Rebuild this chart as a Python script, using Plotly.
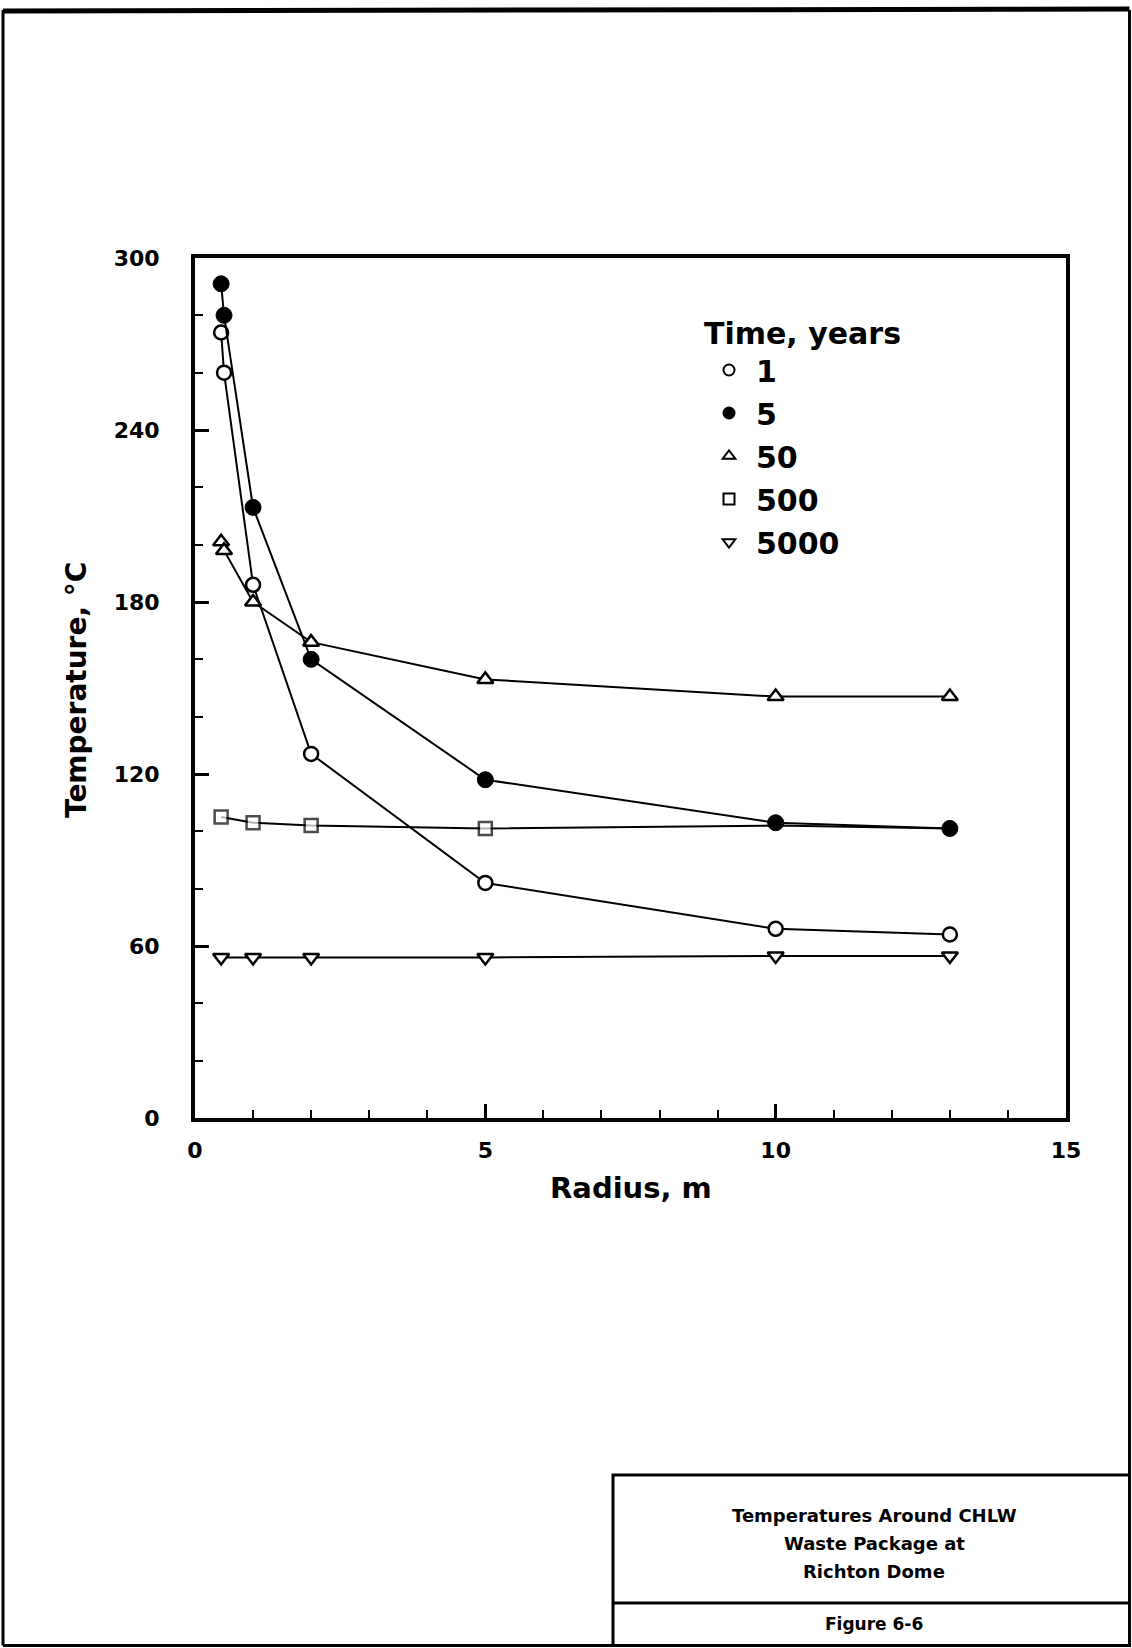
import plotly.graph_objects as go

# Radial positions (m) and temperatures (deg C) for each elapsed time
radius = [0.45, 0.5, 1, 2, 5, 10, 13]
radius_short = [0.45, 1, 2, 5, 10, 13]

temp_1yr = [274, 260, 186, 127, 82, 66, 64]
temp_5yr = [291, 280, 213, 160, 118, 103, 101]
temp_50yr = [201, 198, 180, 166, 153, 147, 147]
temp_500yr = [105, 103, 102, 101, 102, 101]
temp_5000yr = [56, 56, 56, 56, 56.5, 56.5]

series_names = ["1", "5", "50", "500", "5000"]

x_ticks = [0, 5, 10, 15]
y_ticks = [0, 60, 120, 180, 240, 300]

W, H = 1132, 1648
FONT = "DejaVu Sans"
BLACK = "#000000"


def px_x(p):
    return p / W


def px_y(p):
    return 1 - p / H


fig = go.Figure()

line_style = dict(color=BLACK, width=2)

# 500-year curve: its last two markers sit underneath the 5-year dots
fig.add_trace(go.Scatter(
    x=radius_short, y=temp_500yr, mode="lines+markers", showlegend=False,
    line=line_style,
    marker=dict(symbol="square", size=[13, 13, 13, 13, 0, 0], color="white",
                line=dict(color=BLACK, width=2.5)),
))
fig.add_trace(go.Scatter(
    x=radius_short, y=temp_5000yr, mode="lines+markers", showlegend=False,
    line=line_style,
    marker=dict(symbol="triangle-down", size=14, color="white",
                line=dict(color=BLACK, width=2.5)),
))
fig.add_trace(go.Scatter(
    x=radius, y=temp_50yr, mode="lines+markers", showlegend=False,
    line=line_style,
    marker=dict(symbol="triangle-up", size=14, color="white",
                line=dict(color=BLACK, width=2.5)),
))
fig.add_trace(go.Scatter(
    x=radius, y=temp_1yr, mode="lines+markers", showlegend=False,
    line=line_style,
    marker=dict(symbol="circle", size=14, color="white",
                line=dict(color=BLACK, width=2.5)),
))
fig.add_trace(go.Scatter(
    x=radius, y=temp_5yr, mode="lines+markers", showlegend=False,
    line=line_style,
    marker=dict(symbol="circle", size=16, color=BLACK,
                line=dict(color=BLACK, width=1)),
))

# Legend entries show the symbol only
legend_symbols = [
    ("circle", "white"),
    ("circle", BLACK),
    ("triangle-up", "white"),
    ("square", "white"),
    ("triangle-down", "white"),
]
for name, (sym, fill) in zip(series_names, legend_symbols):
    fig.add_trace(go.Scatter(
        x=[None], y=[None], mode="markers", name=name, legendgroup=name,
        marker=dict(symbol=sym, size=11, color=fill,
                    line=dict(color=BLACK, width=2)),
    ))

axis_common = dict(
    showline=True, linecolor=BLACK, linewidth=4, mirror=True,
    ticks="inside", ticklen=14, tickwidth=2.5, tickcolor=BLACK,
    showgrid=False, zeroline=False, automargin=False,
    tickfont=dict(family=FONT, size=22, color=BLACK, weight="bold"),
)

fig.update_layout(
    width=W, height=H,
    margin=dict(l=0, r=0, t=0, b=0, autoexpand=False),
    paper_bgcolor="white", plot_bgcolor="white",
    font=dict(family=FONT, color=BLACK),
    xaxis=dict(
        domain=[px_x(195), px_x(1066)], range=[0, 15],
        tickvals=x_ticks, ticktext=[str(v) for v in x_ticks],
        minor=dict(dtick=1, ticks="inside", ticklen=8, tickwidth=2, tickcolor=BLACK),
        ticklabelstandoff=10,
        **axis_common,
    ),
    yaxis=dict(
        domain=[px_y(1118), px_y(258)], range=[0, 300],
        tickvals=y_ticks, ticktext=[str(v) for v in y_ticks],
        minor=dict(dtick=20, ticks="inside", ticklen=8, tickwidth=2, tickcolor=BLACK),
        ticklabelstandoff=27,
        **axis_common,
    ),
    legend=dict(
        x=px_x(702), y=px_y(305), xanchor="left", yanchor="top",
        bgcolor="rgba(0,0,0,0)", borderwidth=0,
        font=dict(family=FONT, size=30, color=BLACK, weight="bold"),
        title=dict(text="Time, years",
                   font=dict(family=FONT, size=30, color=BLACK, weight="bold")),
        tracegroupgap=1,
        itemwidth=44,
    ),
)

# Axis titles
fig.add_annotation(
    x=px_x(631), y=px_y(1188), xref="paper", yref="paper",
    xanchor="center", yanchor="middle",
    text="Radius, m", showarrow=False,
    font=dict(family=FONT, size=29, color=BLACK, weight="bold"),
)
fig.add_annotation(
    x=px_x(76), y=px_y(690), xref="paper", yref="paper",
    xanchor="center", yanchor="middle",
    text="Temperature, °C", textangle=-90, showarrow=False,
    font=dict(family=FONT, size=28, color=BLACK, weight="bold"),
)

# Page frame
left, right, top, bottom = 3, 1129.5, 10, 1645.5
frame = [
    (left, top + 1, right, top - 1, 5),
    (left, top, left, bottom, 3),
    (right, top, right, bottom, 3),
    (left, bottom, right, bottom, 3),
]
for x0, y0, x1, y1, w in frame:
    fig.add_shape(type="line", xref="paper", yref="paper",
                  x0=px_x(x0), y0=px_y(y0), x1=px_x(x1), y1=px_y(y1),
                  line=dict(color=BLACK, width=w))

# Caption block in the lower right corner
fig.add_shape(type="rect", xref="paper", yref="paper",
              x0=px_x(613), y0=px_y(1475), x1=px_x(right), y1=px_y(bottom),
              line=dict(color=BLACK, width=3))
fig.add_shape(type="line", xref="paper", yref="paper",
              x0=px_x(613), y0=px_y(1603), x1=px_x(right), y1=px_y(1603),
              line=dict(color=BLACK, width=3))

caption_lines = ["Temperatures Around CHLW", "Waste Package at", "Richton Dome"]
for text, yc in zip(caption_lines, [1515, 1543, 1571]):
    fig.add_annotation(
        x=px_x(874), y=px_y(yc), xref="paper", yref="paper",
        xanchor="center", yanchor="middle",
        text=text, showarrow=False,
        font=dict(family=FONT, size=18, color=BLACK, weight="bold"),
    )
fig.add_annotation(
    x=px_x(874), y=px_y(1624), xref="paper", yref="paper",
    xanchor="center", yanchor="middle",
    text="Figure 6-6", showarrow=False,
    font=dict(family=FONT, size=17, color=BLACK, weight="bold"),
)

fig.write_html("out.html")
